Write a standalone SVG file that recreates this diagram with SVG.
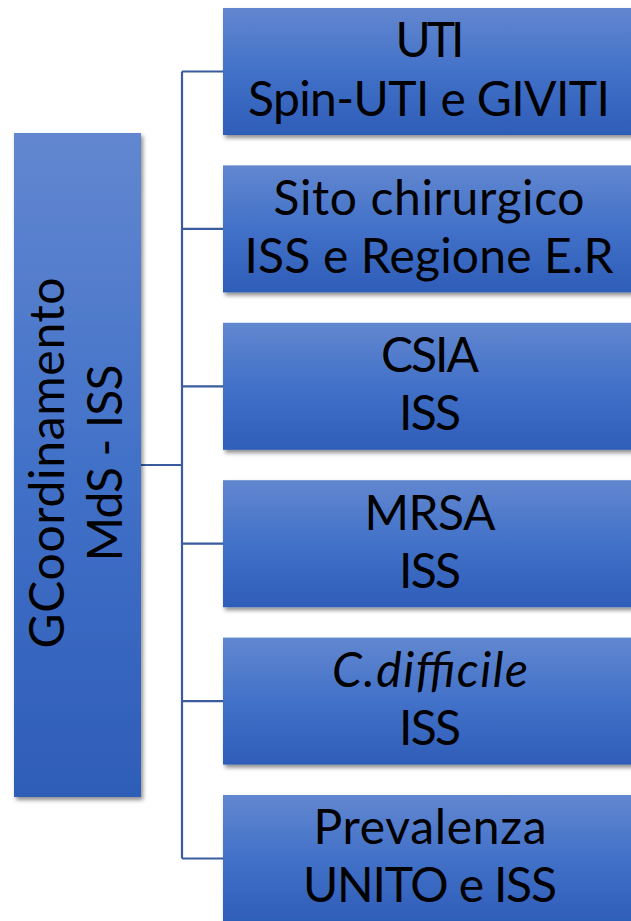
<svg xmlns="http://www.w3.org/2000/svg" width="631" height="921" viewBox="0 0 631 921">
<defs>
<linearGradient id="g" x1="0" y1="0" x2="0" y2="1">
<stop offset="0" stop-color="#6287D0"/>
<stop offset="0.5" stop-color="#4271C8"/>
<stop offset="1" stop-color="#2E5DB8"/>
</linearGradient>
<filter id="sh" x="-10%" y="-10%" width="125%" height="130%">
<feDropShadow dx="2" dy="3" stdDeviation="2.2" flood-color="#000" flood-opacity="0.45"/>
</filter>
<style>
.box{fill:url(#g);filter:url(#sh);}
.t{font-family:Lato,"Liberation Sans",sans-serif;font-size:48px;fill:#000;text-anchor:middle;}
.c{fill:none;stroke:#3A5C9F;stroke-width:2.2;}
</style>
</defs>
<rect width="631" height="921" fill="#fff"/>
<g id="connectors">
<path class="c" d="M182 71.5V858.5M141 465H182M182 71.5H223M182 228.9H223M182 386.3H223M182 543.7H223M182 701.1H223M182 858.5H223"/>
</g>
<g id="root">
<rect class="box" x="14" y="133" width="127" height="664"/>
<g transform="translate(0,463) rotate(-90)">
<text class="t" x="0" y="64" textLength="371">GCoordinamento</text>
<text class="t" x="0" y="122" textLength="197">MdS - ISS</text>
</g>
</g>
<g id="n1">
<rect class="box" x="223" y="8" width="412" height="127"/>
<text class="t" x="430" y="57" textLength="69">UTI</text>
<text class="t" x="429" y="116" textLength="362">Spin-UTI e GIVITI</text>
</g>
<g id="n2">
<rect class="box" x="223" y="165.4" width="412" height="127"/>
<text class="t" x="429" y="215" textLength="311">Sito chirurgico</text>
<text class="t" x="429" y="273" textLength="369">ISS e Regione E.R</text>
</g>
<g id="n3">
<rect class="box" x="223" y="322.8" width="412" height="127"/>
<text class="t" x="430" y="372" textLength="98">CSIA</text>
<text class="t" x="430" y="430" textLength="62">ISS</text>
</g>
<g id="n4">
<rect class="box" x="223" y="480.2" width="412" height="127"/>
<text class="t" x="430" y="530" textLength="131">MRSA</text>
<text class="t" x="430" y="588" textLength="62">ISS</text>
</g>
<g id="n5">
<rect class="box" x="223" y="637.6" width="412" height="127"/>
<text class="t" x="430" y="687" font-style="italic" textLength="196">C.difficile</text>
<text class="t" x="430" y="745" textLength="62">ISS</text>
</g>
<g id="n6">
<rect class="box" x="223" y="795" width="412" height="127"/>
<text class="t" x="430" y="844" textLength="233">Prevalenza</text>
<text class="t" x="430" y="902" textLength="254">UNITO e ISS</text>
</g>
</svg>
